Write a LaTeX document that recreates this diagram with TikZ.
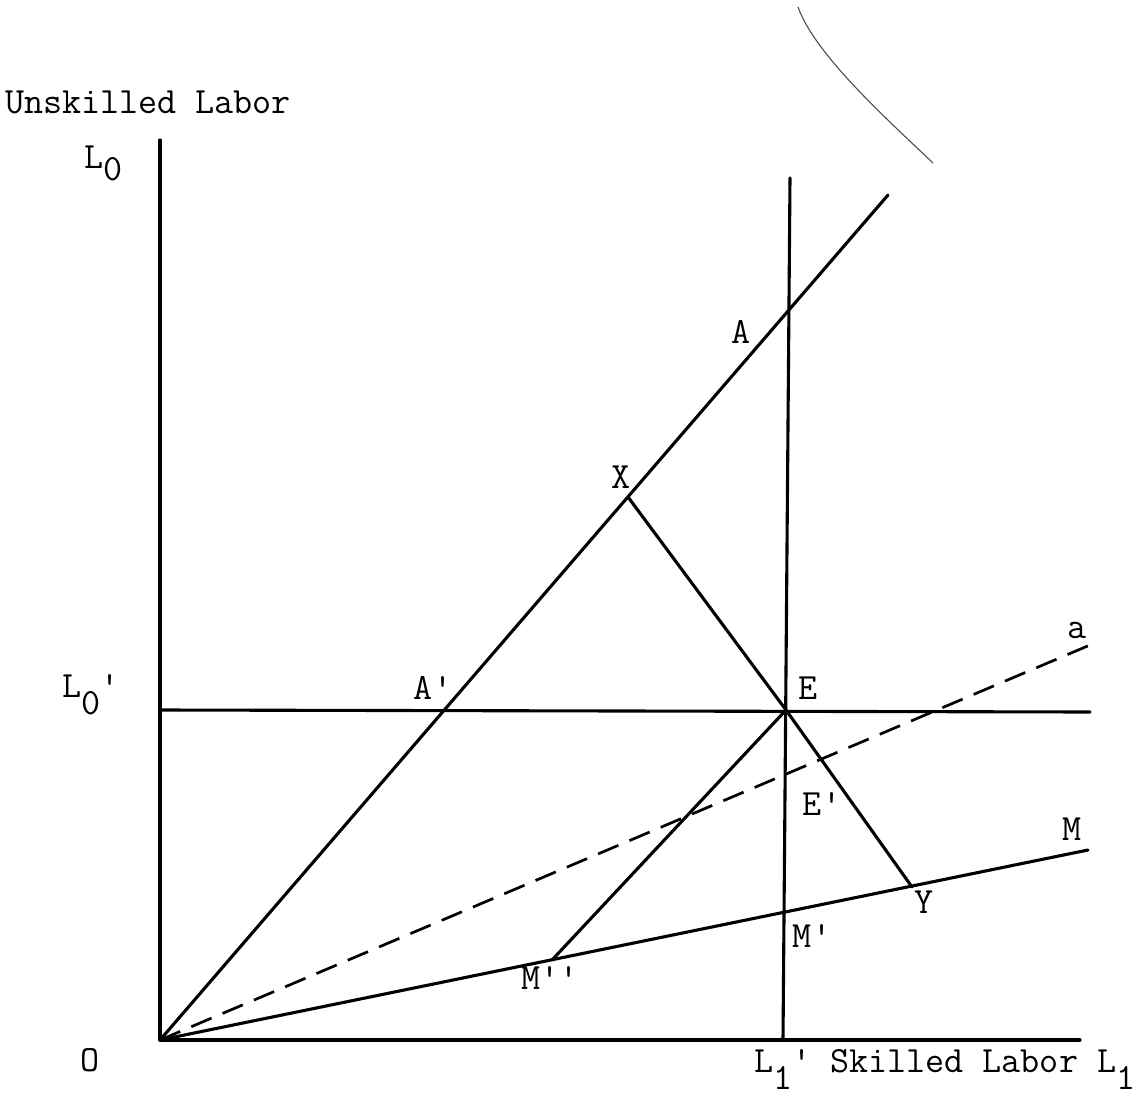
\documentclass[tikz,border=0pt]{standalone}
\newcommand{\lsub}[2][13pt]{\raisebox{-#1}{#2}}
\begin{document}
\begin{tikzpicture}[x=1pt,y=-1pt,
  lbl/.style={font=\fontsize{37}{40}\selectfont\ttfamily, inner sep=0pt},
  ln/.style={line width=3.1pt, line cap=round, line join=round},
  dsh/.style={line width=2.7pt, dash pattern=on 22pt off 12pt},
  scanarc/.style={line width=1.1pt, draw=black!70}]
\useasboundingbox (0,0) rectangle (1143,1097);
% points
\coordinate (O) at (160,1040);
\coordinate (Ltop) at (160,140);
\coordinate (Lend) at (1080,1040);
\coordinate (Vtop) at (790,178);
\coordinate (Vbot) at (783,1040);
\coordinate (Atop) at (888,195);
\coordinate (Hl) at (160,710);
\coordinate (Hr) at (1090,712);
\coordinate (E) at (786,710);
\coordinate (X) at (628,497);
\coordinate (Y) at (912,887);
\coordinate (Mend) at (1088,850);
\coordinate (Mpp) at (552,960);
\coordinate (aend) at (1090,645);
\coordinate (arcS) at (798,7);
\coordinate (arcE) at (933,163);
% lines
\draw[ln] (O) -- (Ltop);
\draw[ln] (O) -- (Lend);
\draw[ln] (Vbot) -- (Vtop);
\draw[ln] (O) -- (Atop);
\draw[ln] (Hl) -- (Hr);
\draw[ln] (X) -- (E) -- (Y);
\draw[ln] (O) -- (Mend);
\draw[ln] (Mpp) -- (E);
\draw[dsh] (O) -- (aend);
\draw[scanarc] (arcS) .. controls (815,55) and (890,122) .. (arcE);
% labels
\node[lbl, anchor=base west] (tUL) at (5,114) {Unskilled Labor};
\node[lbl, anchor=base west] (tL0) at (84,168) {L\lsub[12pt]{0}};
\node[lbl, anchor=base west] (tL0p) at (62,697) {L\lsub[17pt]{0}'};
\node[lbl, anchor=base west] (tL1) at (754,1072) {L\lsub[17pt]{1}' Skilled Labor L\lsub[17pt]{1}};
\node[lbl] (tA) at (741,332) {A};
\node[lbl] (tX) at (621,477) {X};
\node[lbl] (tAp) at (433,688) {A'};
\node[lbl] (tE) at (808,688) {E};
\node[lbl] (tEp) at (822,804) {E'};
\node[lbl] (tM) at (1072,829) {M};
\node[lbl] (tY) at (924,902) {Y};
\node[lbl] (tMp) at (812,936) {M'};
\node[lbl] (tMpp) at (550,978) {M'{}'};
\node[lbl] (ta) at (1077,630) {a};
\node[lbl] (tO) at (90,1060) {O};
\end{tikzpicture}
\end{document}
